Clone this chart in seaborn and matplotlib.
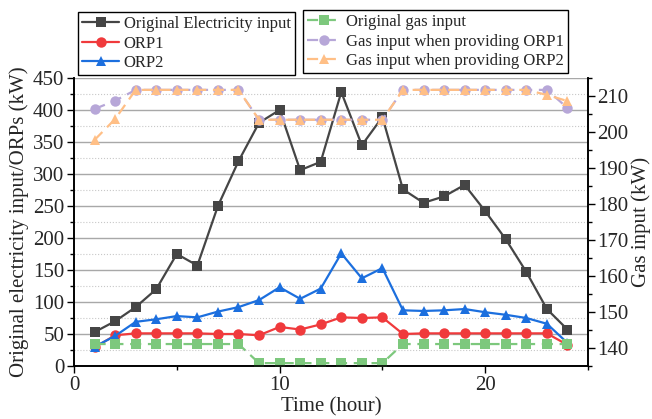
import numpy as np
import pandas as pd
import matplotlib
matplotlib.use("Agg")
import matplotlib.pyplot as plt
from matplotlib.ticker import MultipleLocator
import seaborn as sns

# ---- data ----
hours = list(range(1, 25))
elec_orig = [53, 70, 92, 120, 175, 157, 250, 320, 380, 400, 306, 319,
             428, 345, 389, 276, 255, 265, 283, 242, 198, 147, 89, 57]
orp1 = [29, 48, 51, 51, 51, 51, 50, 50, 48, 61, 57, 65,
        76, 75, 76, 50, 51, 51, 51, 51, 51, 51, 51, 33]
orp2 = [30, 47, 69, 73, 78, 76, 85, 92, 103, 123, 105, 121,
        176, 137, 153, 87, 86, 87, 89, 84, 80, 75, 66, 36]
gas_orig = [141.1] * 8 + [135.8] * 7 + [141.1] * 9
gas_orp1 = [206.4, 208.7] + [211.7] * 6 + [203.4] * 7 + [211.7] * 8 + [206.7]
gas_orp2 = [197.8, 203.6] + [211.7] * 6 + [203.4] * 7 + [211.7] * 7 + [210.3, 208.6]

left_labels = ["Original Electricity input", "ORP1", "ORP2"]
right_labels = ["Original gas input", "Gas input when providing ORP1",
                "Gas input when providing ORP2"]

sns.set_style("ticks")
plt.rcParams['font.family'] = ['Liberation Serif', 'DejaVu Serif']
plt.rcParams['mathtext.fontset'] = 'stix'

fig = plt.figure(figsize=(6.52, 4.19), dpi=100)
ax = fig.add_axes([74/652, 1-366/419, (588-74)/652, (366-78)/419])
ax2 = ax.twinx()

lw = 1.6
ms = 6.5
sns.lineplot(x=hours, y=elec_orig, ax=ax, color="#454545", marker="s", markersize=ms,
             markeredgewidth=0, linewidth=lw, label=left_labels[0], zorder=5)
sns.lineplot(x=hours, y=orp1, ax=ax, color="#f03a3c", marker="o", markersize=ms+1,
             markeredgewidth=0, linewidth=lw, label=left_labels[1], zorder=5)
sns.lineplot(x=hours, y=orp2, ax=ax, color="#1c6fde", marker="^", markersize=ms+1,
             markeredgewidth=0, linewidth=lw, label=left_labels[2], zorder=5)

dash = (0, (5, 3))
sns.lineplot(x=hours, y=gas_orig, ax=ax2, color="#7dc87d", marker="s", markersize=ms,
             markeredgewidth=0, linewidth=lw, linestyle=dash, label=right_labels[0])
sns.lineplot(x=hours, y=gas_orp1, ax=ax2, color="#b7a7d8", marker="o", markersize=ms+1,
             markeredgewidth=0, linewidth=lw, linestyle=dash, label=right_labels[1])
sns.lineplot(x=hours, y=gas_orp2, ax=ax2, color="#ffbf86", marker="^", markersize=ms+1,
             markeredgewidth=0, linewidth=lw, linestyle=dash, label=right_labels[2])

# axes limits / ticks
ax.set_xlim(0, 25)
ax.set_ylim(0, 450)
ax2.set_ylim(135, 215)
ax.xaxis.set_major_locator(MultipleLocator(10))
ax.xaxis.set_minor_locator(MultipleLocator(5))
ax.yaxis.set_major_locator(MultipleLocator(50))
ax.yaxis.set_minor_locator(MultipleLocator(25))
ax2.yaxis.set_major_locator(MultipleLocator(10))
ax2.yaxis.set_minor_locator(MultipleLocator(5))
ax2.set_yticks([140, 150, 160, 170, 180, 190, 200, 210])

for a in (ax, ax2):
    a.tick_params(axis='both', which='major', direction='out', length=5, width=1,
                  labelsize=15, color='black', pad=2)
    a.tick_params(axis='both', which='minor', direction='out', length=3, width=1,
                  color='black')
    a.spines['top'].set_visible(False)
    for s in ('left', 'right', 'bottom'):
        a.spines[s].set_linewidth(1.2)
        a.spines[s].set_color('black')
ax2.tick_params(axis='y', which='major', pad=1.5)

ax.grid(True, axis='y', which='major', color='#a8a8a8', linewidth=1.0, linestyle='-')
ax.grid(True, axis='y', which='minor', color='#c8c8c8', linewidth=0.8, linestyle=':')
ax.grid(False, axis='x', which='both')
ax.set_axisbelow(True)

ax.set_xlabel("Time (hour)", fontsize=15, labelpad=2)
ax.set_ylabel("Original electricity input/ORPs (kW)", fontsize=15, labelpad=3)
ax2.set_ylabel("Gas input (kW)", fontsize=15, labelpad=2.5)

# legends
h1, l1 = ax.get_legend_handles_labels()
h2, l2 = ax2.get_legend_handles_labels()
if ax.get_legend():
    ax.get_legend().remove()
if ax2.get_legend():
    ax2.get_legend().remove()

leg_kw = dict(fontsize=12, frameon=True, fancybox=False, edgecolor='black',
              framealpha=1, borderpad=0.25, labelspacing=0.2, handletextpad=0.3,
              borderaxespad=0, loc='upper left')
legL = fig.legend(h1, l1, bbox_to_anchor=(78/652, 1-12/419), handlelength=2.2, **leg_kw)
legR = fig.legend(h2, l2, bbox_to_anchor=(303/652, 1-10/419), handlelength=2.0,
                  **leg_kw)
for lg in (legL, legR):
    lg.get_frame().set_linewidth(1.0)

fig.savefig("out.png", dpi=100)
